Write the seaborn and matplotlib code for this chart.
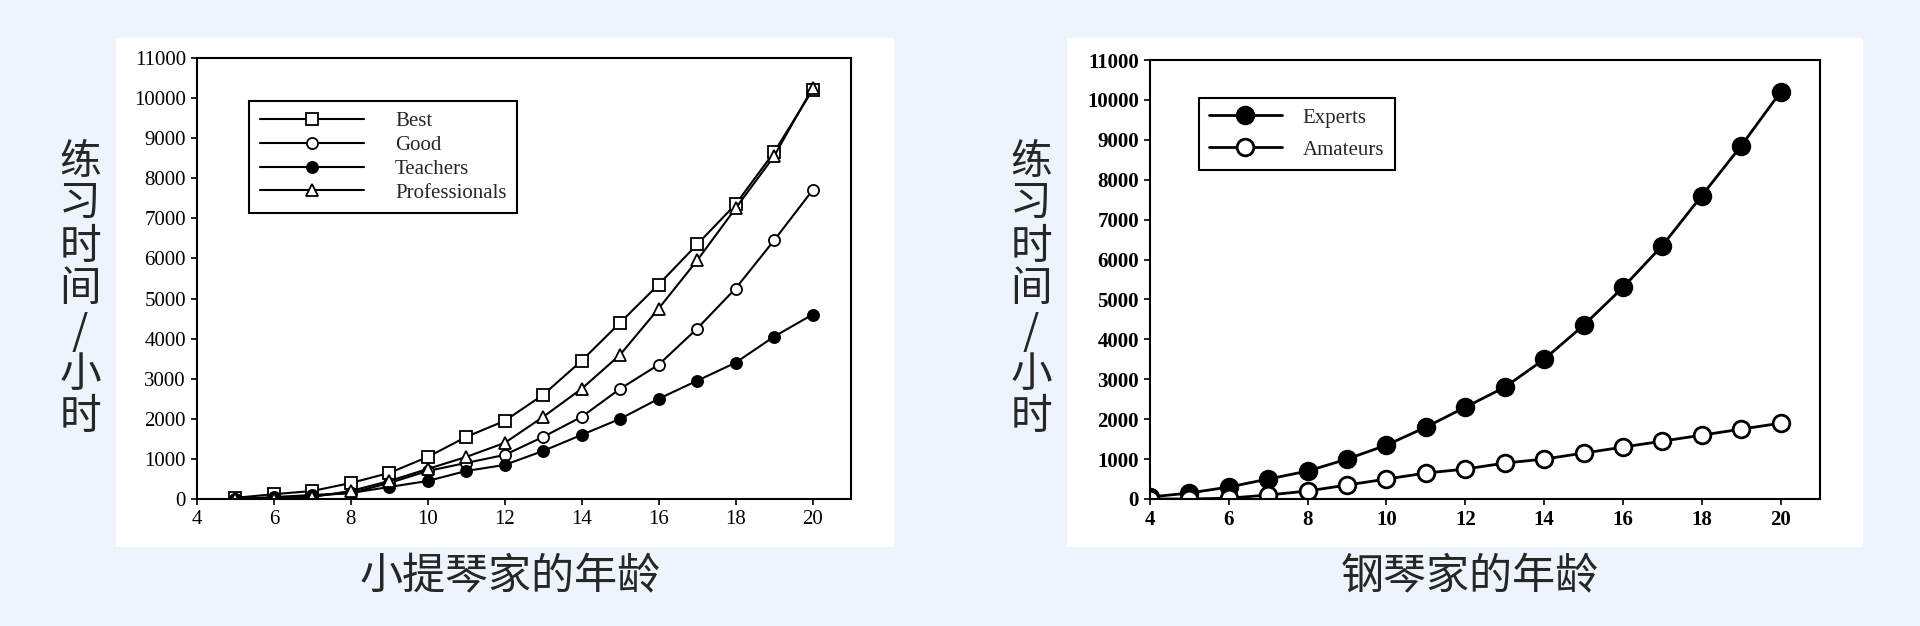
import matplotlib
matplotlib.use("Agg")
import matplotlib.pyplot as plt
import seaborn as sns
import pandas as pd

violin_ages = list(range(5, 21))
best = [30, 120, 200, 400, 650, 1050, 1550, 1950, 2600, 3450, 4400, 5350, 6350, 7350, 8650, 10200]
good = [0, 20, 80, 150, 400, 700, 900, 1100, 1550, 2050, 2750, 3350, 4250, 5250, 6450, 7700]
teachers = [0, 50, 100, 150, 300, 450, 700, 850, 1200, 1600, 2000, 2500, 2950, 3400, 4050, 4600]
professionals = [0, 0, 50, 200, 450, 750, 1050, 1400, 2050, 2750, 3600, 4750, 5950, 7250, 8550, 10250]

piano_ages = list(range(4, 21))
experts = [50, 150, 300, 500, 700, 1000, 1350, 1800, 2300, 2800, 3500, 4350, 5300, 6350, 7600, 8850, 10200]
amateurs = [0, 0, 20, 100, 200, 350, 500, 650, 750, 900, 1000, 1150, 1300, 1450, 1600, 1750, 1900]

x_ticks = list(range(4, 21, 2))
y_ticks = list(range(0, 11001, 1000))
ylabel = "练\n习\n时\n间\n/\n小\n时"

sns.set_theme(style="white")
plt.rcParams['font.family'] = ['Liberation Serif', 'DejaVu Sans']

bg = "#eef4fb"
fig = plt.figure(figsize=(19.2, 6.26), dpi=100, facecolor=bg)
W, H = 1920, 626

def panel(x0, x1, y0, y1):
    fig.patches.append(plt.Rectangle((x0 / W, 1 - y1 / H), (x1 - x0) / W, (y1 - y0) / H,
                                     transform=fig.transFigure, facecolor="white", edgecolor="none", zorder=-10))

panel(116, 894, 38, 547)
panel(1067, 1863, 38, 547)

ax1 = fig.add_axes([197 / W, 1 - 499 / H, (851 - 197) / W, (499 - 58) / H])
ax2 = fig.add_axes([1150 / W, 1 - 499 / H, (1820 - 1150) / W, (499 - 60) / H])
ax1.set_zorder(5)
ax2.set_zorder(5)

left_series = [("Best", best, "s", "white"), ("Good", good, "o", "white"),
               ("Teachers", teachers, "o", "black"), ("Professionals", professionals, "^", "white")]
for name, vals, m, fc in left_series:
    df = pd.DataFrame({"age": violin_ages, "hours": vals})
    sns.lineplot(data=df, x="age", y="hours", ax=ax1, color="black", lw=1.5, marker=m,
                 markersize=8, markerfacecolor=fc, markeredgecolor="black", markeredgewidth=1.3, label=name)

right_series = [("Experts", experts, "black"), ("Amateurs", amateurs, "white")]
for name, vals, fc in right_series:
    df = pd.DataFrame({"age": piano_ages, "hours": vals})
    sns.lineplot(data=df, x="age", y="hours", ax=ax2, color="black", lw=2, marker="o",
                 markersize=12, markerfacecolor=fc, markeredgecolor="black", markeredgewidth=2, label=name)

for ax, bold in [(ax1, False), (ax2, True)]:
    ax.set_facecolor("white")
    ax.set_xlim(4, 21)
    ax.set_ylim(0, 11000)
    ax.set_xticks(x_ticks)
    ax.set_yticks(y_ticks)
    for lab in ax.get_xticklabels() + ax.get_yticklabels():
        lab.set_fontfamily("Liberation Serif")
        lab.set_fontsize(15)
        if bold:
            lab.set_fontweight("bold")
    ax.tick_params(direction="out", length=4, width=1.2, color="black", labelcolor="black", pad=4,
                   bottom=True, left=True)
    for s in ax.spines.values():
        s.set_color("black")
        s.set_linewidth(1.5)
    ax.set_xlabel("")
    ax.set_ylabel("")

leg1 = ax1.legend(loc="upper left", bbox_to_anchor=(0.064, 0.925), frameon=True, fancybox=False,
                  edgecolor="black", framealpha=1, prop={"family": "Liberation Serif", "size": 15},
                  handlelength=5, labelspacing=0.2, borderpad=0.5, handletextpad=1.5)
leg1.get_frame().set_linewidth(1.5)
leg2 = ax2.legend(loc="upper left", bbox_to_anchor=(0.057, 0.938), frameon=True, fancybox=False,
                  edgecolor="black", framealpha=1, prop={"family": "Liberation Serif", "size": 15},
                  handlelength=3.5, labelspacing=0.6, borderpad=0.5, handletextpad=1.0)
leg2.get_frame().set_linewidth(1.5)

cjk = ['Noto Sans CJK SC', 'DejaVu Sans']
fig.text(80 / W, 1 - 290 / H, ylabel, family=cjk, fontsize=30, ha="center", va="center", linespacing=1.05)
fig.text(1031 / W, 1 - 290 / H, ylabel, family=cjk, fontsize=30, ha="center", va="center", linespacing=1.05)
fig.text(510 / W, 1 - 577 / H, "小提琴家的年龄", family=cjk, fontsize=31, ha="center", va="center")
fig.text(1470 / W, 1 - 577 / H, "钢琴家的年龄", family=cjk, fontsize=31, ha="center", va="center")

fig.savefig("out.png", dpi=100, facecolor=bg)
